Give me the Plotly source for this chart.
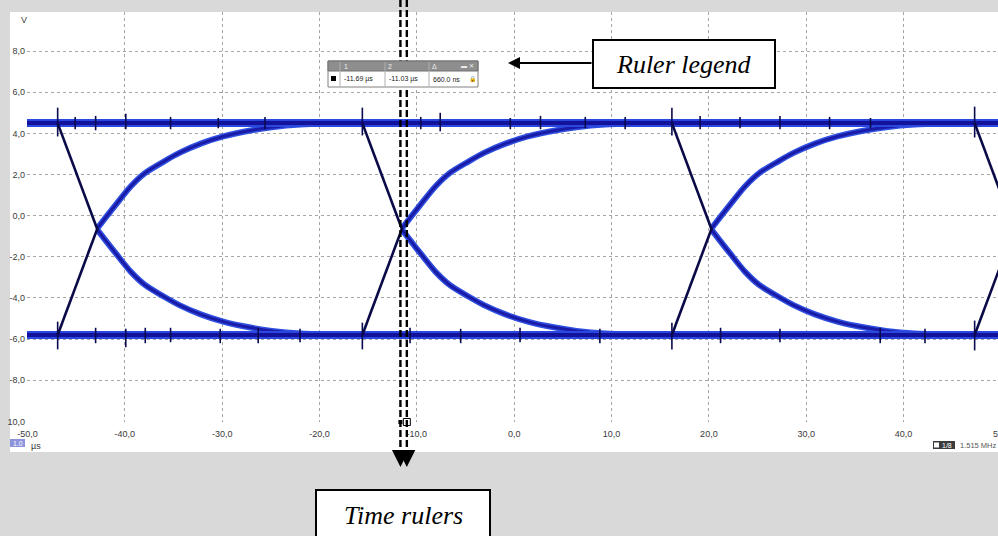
import plotly.graph_objects as go

# ---------------- data ----------------
X_RANGE = [-50.05, 49.7]
Y_RANGE = [-10.03, 9.9]
X_TICKS = [-50, -40, -30, -20, -10, 0, 10, 20, 30, 40]
X_TICK_TEXT = ["-50,0", "-40,0", "-30,0", "-20,0", "-10,0", "0,0", "10,0", "20,0", "30,0", "40,0"]
Y_TICKS = [-10, -8, -6, -4, -2, 0, 2, 4, 6, 8]
Y_TICK_TEXT = ["10,0", "-8,0", "-6,0", "-4,0", "-2,0", "0,0", "2,0", "4,0", "6,0", "8,0"]

HIGH_LEVEL = 4.5      # V
LOW_LEVEL = -5.8      # V
EDGE_TIMES = [-46.9, -15.6, 16.2, 47.3]   # µs, start of each transition

# fast initial ramp of each transition (µs after edge, V)
RAMP_DT = [0, 1, 2, 3, 4.1]
RAMP_FALL_V = [4.5, 3.23, 1.96, 0.69, -0.7]
RAMP_RISE_V = [-5.8, -4.53, -3.26, -1.99, -0.6]

# slow settling tail of each transition
TAIL_DT = [4.1, 5, 6, 7.5, 9, 10.9, 12.5, 14.7, 17, 19.8, 22, 24.9, 28, 31.3]
TAIL_FALL_V = [-0.7, -1.25, -1.85, -2.72, -3.38, -3.93, -4.35, -4.8, -5.15, -5.44, -5.6, -5.73, -5.78, -5.8]
TAIL_RISE_V = [-0.6, -0.05, 0.55, 1.42, 2.08, 2.63, 3.05, 3.5, 3.85, 4.14, 4.3, 4.43, 4.48, 4.5]

# glitches on the high level: time, top, bottom
HIGH_SPIKE_T = [-46.9, -45.1, -43.0, -39.9, -35.3, -30.4, -25.6, -15.6, -9.6, -7.6, -0.4,
                2.7, 7.3, 11.4, 16.2, 19.1, 23.2, 27.3, 32.4, 36.6, 47.3]
HIGH_SPIKE_TOP = [5.25, 4.8, 4.85, 4.95, 4.8, 4.75, 4.8, 5.25, 4.8, 5.0, 4.75,
                  4.85, 4.8, 4.8, 5.25, 4.85, 4.8, 4.85, 4.8, 4.75, 5.3]
HIGH_SPIKE_BOT = [3.85, 4.2, 4.15, 4.2, 4.2, 4.25, 4.2, 3.9, 4.2, 4.1, 4.2,
                  4.2, 4.25, 4.2, 3.9, 4.2, 4.25, 4.2, 4.2, 4.25, 3.8]

# glitches on the low level
LOW_SPIKE_T = [-46.9, -43.0, -39.9, -37.9, -35.3, -30.2, -26.3, -22.0, -15.6, -10.7,
               -5.5, 0.6, 8.8, 16.2, 21.2, 27.3, 37.6, 42.2, 47.3]
LOW_SPIKE_TOP = [-5.15, -5.45, -5.5, -5.45, -5.45, -5.5, -5.45, -5.5, -5.2, -5.45,
                 -5.5, -5.45, -5.5, -5.2, -5.45, -5.5, -5.45, -5.5, -5.1]
LOW_SPIKE_BOT = [-6.5, -6.2, -6.4, -6.2, -6.15, -6.2, -6.2, -6.15, -6.5, -6.2,
                 -6.2, -6.15, -6.2, -6.5, -6.2, -6.15, -6.2, -6.2, -6.55]

RULER_T = [-11.69, -11.03]   # µs

# ---------------- layout helpers ----------------
W, H = 998, 536
ML, MR, MT, MB = 27, 0, 12, 114
PW, PH = W - ML - MR, H - MT - MB


def px(xp):
    return (xp - ML) / PW


def py(yp):
    return (H - MB - yp) / PH


def build(edges, dts, vals):
    xs, ys = [], []
    for e in edges:
        for d, v in zip(dts, vals):
            xs.append(e + d)
            ys.append(v)
        xs.append(None)
        ys.append(None)
    return xs, ys


def spikes(ts, tops, bots):
    xs, ys = [], []
    for t, a, b in zip(ts, tops, bots):
        xs += [t, t, None]
        ys += [a, b, None]
    return xs, ys


def label(x, y, text, font, xanchor="center", yanchor="middle"):
    return dict(xref="paper", yref="paper", x=x, y=y, text=text, showarrow=False,
                xanchor=xanchor, yanchor=yanchor, font=font)


fig = go.Figure()

# settling tails (blue)
fx, fy = build(EDGE_TIMES, TAIL_DT, TAIL_FALL_V)
rx, ry = build(EDGE_TIMES, TAIL_DT, TAIL_RISE_V)
tx, ty = fx + rx, fy + ry
fig.add_trace(go.Scatter(x=tx, y=ty, mode="lines",
                         line=dict(color="#2f4fe0", width=6, shape="spline", smoothing=0.8),
                         hoverinfo="skip"))
fig.add_trace(go.Scatter(x=tx, y=ty, mode="lines",
                         line=dict(color="#1a1ca8", width=3, shape="spline", smoothing=0.8),
                         hoverinfo="skip"))

# logic levels
lx = [X_RANGE[0], X_RANGE[1], None, X_RANGE[0], X_RANGE[1]]
ly = [HIGH_LEVEL, HIGH_LEVEL, None, LOW_LEVEL, LOW_LEVEL]
fig.add_trace(go.Scatter(x=lx, y=ly, mode="lines", line=dict(color="#2a48e0", width=8),
                         hoverinfo="skip"))
fig.add_trace(go.Scatter(x=lx, y=ly, mode="lines", line=dict(color="#12129a", width=4),
                         hoverinfo="skip"))

# fast ramps (dark)
fx, fy = build(EDGE_TIMES, RAMP_DT, RAMP_FALL_V)
rx, ry = build(EDGE_TIMES, RAMP_DT, RAMP_RISE_V)
fig.add_trace(go.Scatter(x=fx + rx, y=fy + ry, mode="lines",
                         line=dict(color="#0a0a48", width=2.6), hoverinfo="skip"))

# glitches
hx, hy = spikes(HIGH_SPIKE_T, HIGH_SPIKE_TOP, HIGH_SPIKE_BOT)
qx, qy = spikes(LOW_SPIKE_T, LOW_SPIKE_TOP, LOW_SPIKE_BOT)
fig.add_trace(go.Scatter(x=hx + qx, y=hy + qy, mode="lines",
                         line=dict(color="#0a0a50", width=1.6), hoverinfo="skip"))

# ruler handles on the time axis
fig.add_trace(go.Scatter(x=[RULER_T[0]], y=[Y_RANGE[0]], mode="markers", cliponaxis=False,
                         marker=dict(symbol="square", size=4, color="black"), hoverinfo="skip"))
fig.add_trace(go.Scatter(x=[RULER_T[1]], y=[Y_RANGE[0]], mode="markers", cliponaxis=False,
                         marker=dict(symbol="square-open", size=7, color="black",
                                     line=dict(width=1)), hoverinfo="skip"))

shapes = []
# scope screen area
shapes.append(dict(type="rect", xref="paper", yref="paper", x0=px(10), x1=px(999),
                   y0=py(452), y1=py(12), fillcolor="white", line=dict(width=0), layer="below"))

# time rulers (dashed verticals running past the screen)
for t in RULER_T:
    shapes.append(dict(type="line", xref="x", yref="paper", x0=t, x1=t, y0=py(0), y1=py(458),
                       line=dict(color="black", width=2.4, dash="7px,3px"), layer="above"))

# ruler legend window
shapes.append(dict(type="rect", xref="paper", yref="paper", x0=px(328), x1=px(478),
                   y0=py(87), y1=py(61), fillcolor="#ffffff", line=dict(color="#808080", width=1),
                   layer="above"))
shapes.append(dict(type="rect", xref="paper", yref="paper", x0=px(328), x1=px(478),
                   y0=py(71), y1=py(61), fillcolor="#8e8e8e", line=dict(color="#707070", width=1),
                   layer="above"))
for xb in [340, 385, 429]:
    shapes.append(dict(type="line", xref="paper", yref="paper", x0=px(xb), x1=px(xb),
                       y0=py(86), y1=py(62), line=dict(color="#b0b0b0", width=1), layer="above"))
shapes.append(dict(type="rect", xref="paper", yref="paper", x0=px(331), x1=px(336),
                   y0=py(81), y1=py(76), fillcolor="black", line=dict(width=0), layer="above"))

# callout boxes
shapes.append(dict(type="rect", xref="paper", yref="paper", x0=px(593), x1=px(775),
                   y0=py(88), y1=py(40), fillcolor="white", line=dict(color="black", width=2),
                   layer="above"))
shapes.append(dict(type="rect", xref="paper", yref="paper", x0=px(316), x1=px(490),
                   y0=py(540), y1=py(490), fillcolor="white", line=dict(color="black", width=2),
                   layer="above"))

# small status widgets
shapes.append(dict(type="rect", xref="paper", yref="paper", x0=px(10), x1=px(25),
                   y0=py(447), y1=py(439), fillcolor="#8c92dc", line=dict(width=0), layer="above"))
shapes.append(dict(type="rect", xref="paper", yref="paper", x0=px(933), x1=px(955),
                   y0=py(449), y1=py(441), fillcolor="#3c3c3c", line=dict(width=0), layer="above"))
shapes.append(dict(type="rect", xref="paper", yref="paper", x0=px(934), x1=px(939),
                   y0=py(447.5), y1=py(442.5), fillcolor="white", line=dict(width=0), layer="above"))

tick_font = dict(family="Arial", size=9, color="#3a3a3a")
ann = []
ann.append(label(px(24), py(20), "V", tick_font))
ann.append(label(px(995), py(434), "5", tick_font))
ann.append(label(px(17.5), py(443), "1.0", dict(family="Arial", size=7, color="white")))
ann.append(label(px(29), py(446), "µs", dict(family="Arial", size=9, color="#3a3a3a"),
                 xanchor="left"))
ann.append(label(px(947), py(445), "1/8", dict(family="Arial", size=7, color="white")))
ann.append(label(px(958), py(445), "1.515 MHz", dict(family="Arial", size=7.5, color="#555"),
                 xanchor="left"))

# ruler legend contents
small = dict(family="Arial", size=7, color="#1a1a1a")
bar = dict(family="Arial", size=7, color="#eeeeee")
ann.append(label(px(346), py(66), "1", bar))
ann.append(label(px(390), py(66), "2", bar))
ann.append(label(px(434), py(66), "Δ", bar))
ann.append(label(px(467), py(66), "▬ ✕", dict(family="Arial", size=6, color="#eeeeee")))
ann.append(label(px(342), py(79), f"{RULER_T[0]:.2f} µs", small, xanchor="left"))
ann.append(label(px(387), py(79), f"{RULER_T[1]:.2f} µs", small, xanchor="left"))
ann.append(label(px(431), py(79), f"{(RULER_T[1] - RULER_T[0]) * 1000:.1f} ns", small,
                 xanchor="left"))
ann.append(label(px(472), py(79), "🔒", dict(family="Arial", size=6, color="#555")))

# callouts
callout_font = dict(family="Liberation Serif", size=26, color="black")
ann.append(label(px(684), py(64), "<i>Ruler legend</i>", callout_font))
ann.append(dict(xref="paper", yref="paper", x=px(508), y=py(63), text="", showarrow=True,
                ax=85, ay=0, arrowhead=2, arrowsize=1.2, arrowwidth=2, arrowcolor="black"))
ann.append(label(px(403), py(515), "<i>Time rulers</i>", callout_font))
for t in RULER_T:
    ann.append(dict(xref="x", yref="paper", x=t, y=py(467), text="", showarrow=True,
                    ax=0, ay=-16, arrowhead=2, arrowsize=2.0, arrowwidth=1.7, arrowcolor="black"))

fig.update_layout(
    width=W, height=H,
    margin=dict(l=ML, r=MR, t=MT, b=MB),
    paper_bgcolor="#d9d9d9",
    plot_bgcolor="white",
    showlegend=False,
    shapes=shapes,
    annotations=ann,
    xaxis=dict(range=X_RANGE, tickvals=X_TICKS, ticktext=X_TICK_TEXT, showgrid=True,
               gridcolor="#a6a6a6", griddash="dot", gridwidth=1, zeroline=False, showline=False,
               ticks="", tickfont=tick_font, ticklabelstandoff=5),
    yaxis=dict(range=Y_RANGE, tickvals=Y_TICKS, ticktext=Y_TICK_TEXT, showgrid=True,
               gridcolor="#a6a6a6", griddash="dot", gridwidth=1, zeroline=False, showline=False,
               ticks="", tickfont=tick_font, ticklabelstandoff=1),
)

fig.write_html("out.html")
